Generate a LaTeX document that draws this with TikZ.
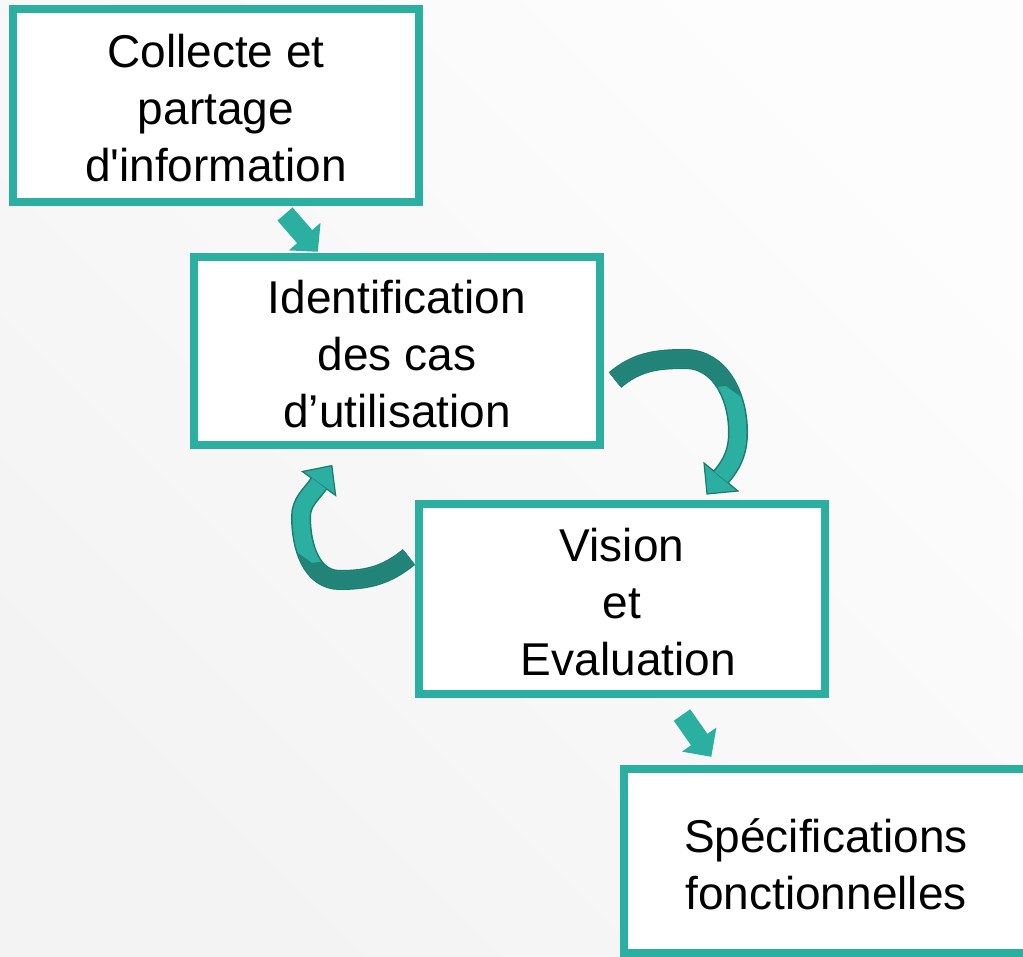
\documentclass[tikz,border=0pt]{standalone}
\usepackage{fontspec}
\newfontfamily\boxfont{Liberation Sans}
\definecolor{teallight}{HTML}{2BAFA1}
\definecolor{tealdark}{HTML}{228478}
\definecolor{tealline}{HTML}{1D7A6E}
\definecolor{bgtop}{HTML}{FDFDFD}
\definecolor{bgbottom}{HTML}{F3F3F3}
\begin{document}
\begin{tikzpicture}[x=1pt,y=1pt,
  box/.style={draw=teallight, line width=8pt, fill=white, inner sep=0pt},
  boxtext/.style={inner sep=0pt, align=center, font={\boxfont\fontsize{46}{57}\selectfont}},
  blockarrow/.style={fill=teallight},
  bandout/.style={draw=tealline, line width=20pt, line cap=butt},
  bandlight/.style={draw=teallight, line width=17pt, line cap=butt},
  banddark/.style={draw=tealdark, line width=17pt, line cap=butt},
  headstyle/.style={fill=teallight, draw=tealline, line width=1.2pt, line join=miter}
]
\useasboundingbox (0,0) rectangle (1023,-957);
\shade[top color=bgtop, bottom color=bgbottom, shading angle=-45] (0,0) rectangle (1023,-957);

% curved arrow from box 2 to box 3
\coordinate (ca1) at (615,-380);
\coordinate (ca2) at (721,-477);
\draw[bandout] (ca1) to[out=40,in=180] (685,-359) to[out=0,in=90] (738,-432) to[out=-90,in=50] (ca2);
\filldraw[headstyle, shift={(ca2)}, rotate=230.5] (0,22) -- (22,0) -- (0,-22) -- cycle;
\draw[bandlight] (ca1) to[out=40,in=180] (685,-359) to[out=0,in=90] (738,-432) to[out=-90,in=50] (ca2);
\begin{scope}
  \clip (590,-320) -- (770,-320) -- (770,-418) -- (726,-386) -- (590,-400) -- cycle;
  \draw[banddark] (ca1) to[out=40,in=180] (685,-359) to[out=0,in=90] (738,-432) to[out=-90,in=50] (ca2);
\end{scope}

% curved arrow from box 3 back to box 2
\coordinate (cb1) at (409,-557);
\coordinate (cb2) at (319,-483.5);
\draw[bandout] (cb1) to[out=219,in=0] (340,-580) to[out=180,in=-90] (301,-517) to[out=90,in=234.3] (cb2);
\filldraw[headstyle, shift={(cb2)}, rotate=54.3] (0,20.5) -- (22,0) -- (0,-20.5) -- cycle;
\draw[bandlight] (cb1) to[out=219,in=0] (340,-580) to[out=180,in=-90] (301,-517) to[out=90,in=234.3] (cb2);
\begin{scope}
  \clip (430,-610) -- (270,-610) -- (270,-533) -- (312,-563) -- (430,-545) -- cycle;
  \draw[banddark] (cb1) to[out=219,in=0] (340,-580) to[out=180,in=-90] (301,-517) to[out=90,in=234.3] (cb2);
\end{scope}

% boxes
\node[box, minimum width=406pt, minimum height=193pt] (b1) at (216,-105.5) {};
\node[box, minimum width=406pt, minimum height=188pt] (b2) at (397,-351) {};
\node[box, minimum width=406pt, minimum height=190pt] (b3) at (622,-599) {};
\node[box, minimum width=404pt, minimum height=184pt] (b4) at (826,-861) {};
\node[boxtext] (t1) at ([yshift=-3pt]b1.center) {Collecte et\\partage\\d'information};
\node[boxtext] (t2) at ([yshift=-3pt]b2.center) {Identification\\des cas\\d’utilisation};
\node[boxtext] (t3) at ([yshift=-3pt]b3.center) {Vision\\et\\\hspace*{0.278em}Evaluation};
\node[boxtext] (t4) at ([yshift=-3pt]b4.center) {Spécifications\\fonctionnelles};

% straight block arrows
\coordinate (s1) at (285,-214);
\coordinate (s2) at (682,-715);
\fill[blockarrow, shift={(s1)}, rotate=-49] (0,10) -- (30,10) -- (30,21) -- (50,0) -- (30,-21) -- (30,-10) -- (0,-10) -- cycle;
\fill[blockarrow, shift={(s2)}, rotate=-55] (0,10) -- (30,10) -- (30,21) -- (51,0) -- (30,-21) -- (30,-10) -- (0,-10) -- cycle;
\end{tikzpicture}
\end{document}
